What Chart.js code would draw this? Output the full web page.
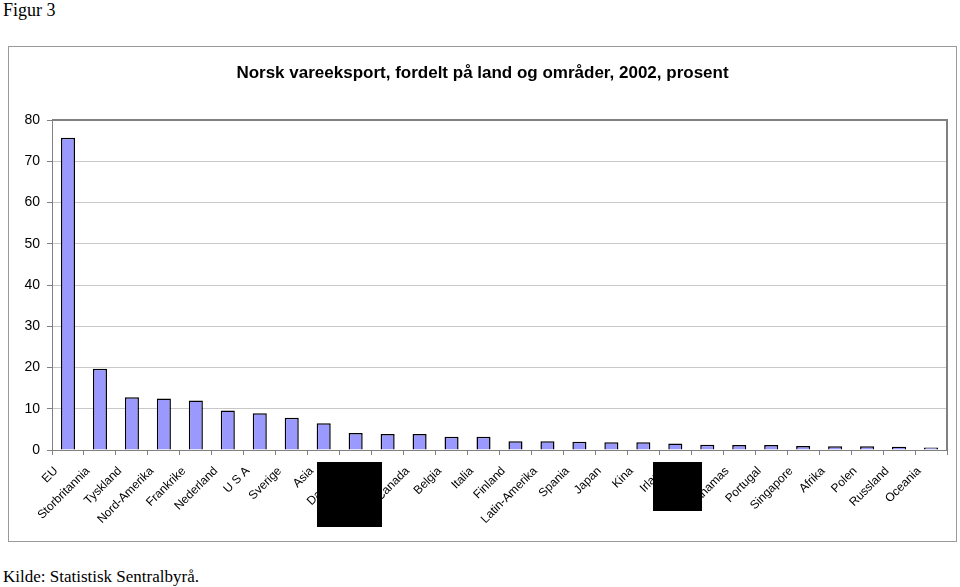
<!DOCTYPE html>
<html>
<head>
<meta charset="utf-8">
<script src="https://cdn.jsdelivr.net/npm/chart.js@4"></script>
<style>
  body { margin: 0; background: #fff; width: 960px; height: 587px; position: relative; overflow: hidden; }
  #figur { position: absolute; left: 3px; top: 0px; font: 18px "Liberation Serif", serif; }
  #kilde { position: absolute; left: 3px; top: 567px; font: 17px "Liberation Serif", serif; }
  #frame { position: absolute; left: 8px; top: 46px; width: 949px; height: 496px; border: 1px solid #9a9a9a; box-sizing: border-box; }
  #title { position: absolute; left: 0; right: 0; top: 16px; text-align: center; font: bold 17px "Liberation Sans", Arial, sans-serif; }
  .redact { position: absolute; background: #000; }
</style>
</head>
<body>
<div id="figur">Figur 3</div>
<div id="frame">
  <canvas id="exportChart"></canvas>
  <div id="title">Norsk vareeksport, fordelt på land og områder, 2002, prosent</div>
</div>
<div class="redact" style="left:317px; top:462px; width:65px; height:65px;"></div>
<div class="redact" style="left:653px; top:462px; width:49px; height:49px;"></div>
<div id="kilde">Kilde: Statistisk Sentralbyrå.</div>

<script>
// land og områder
const countries = ['EU', 'Storbritannia', 'Tyskland', 'Nord-Amerika', 'Frankrike', 'Nederland', 'U S A', 'Sverige',
    'Asia', 'Danmark', 'Sveits', 'Canada', 'Belgia', 'Italia', 'Finland', 'Latin-Amerika', 'Spania', 'Japan',
    'Kina', 'Irland', 'Sør-Korea', 'Bahamas', 'Portugal', 'Singapore', 'Afrika', 'Polen', 'Russland', 'Oceania'];

// prosent av vareeksporten
const shares = [75.7, 19.7, 12.8, 12.5, 12.0, 9.6, 8.9, 7.8,
    6.5, 4.1, 3.9, 3.9, 3.2, 3.2, 2.1, 2.1, 2.0, 1.9,
    1.9, 1.6, 1.3, 1.2, 1.2, 1.0, 0.9, 0.9, 0.8, 0.6];

const yTicks = [0, 10, 20, 30, 40, 50, 60, 70, 80];

// ramme rundt plottområdet (topp og høyre)
const plotBorder = {
    id: 'plotBorder',
    afterDraw(chart) {
        const a = chart.chartArea, c = chart.ctx;
        c.save();
        c.strokeStyle = '#808080';
        c.lineWidth = 2;
        c.beginPath();
        c.moveTo(a.left, a.top);
        c.lineTo(a.right, a.top);
        c.lineTo(a.right, a.bottom);
        c.stroke();
        c.restore();
    }
};

const ctx = document.getElementById('exportChart').getContext('2d');

new Chart(ctx, {
    type: 'bar',
    data: {
        labels: countries,
        datasets: [{
            label: 'Prosent',
            data: shares,
            backgroundColor: '#9999ff',
            borderColor: '#000000',
            borderWidth: 1.5,
            categoryPercentage: 1,
            barPercentage: 0.44
        }]
    },
    plugins: [plotBorder],
    options: {
        responsive: true,
        maintainAspectRatio: false,
        animation: false,
        layout: { padding: { left: 0, right: 9, top: 73, bottom: 0 } },
        plugins: {
            legend: { display: false },
            tooltip: { enabled: false }
        },
        scales: {
            x: {
                grid: { display: true, drawOnChartArea: false, tickLength: 5, color: '#808080' },
                border: { color: '#808080', width: 1 },
                ticks: {
                    autoSkip: false,
                    minRotation: 45,
                    maxRotation: 45,
                    color: '#000',
                    labelOffset: -12,
                    padding: 9,
                    font: { family: '"Liberation Sans", Arial, sans-serif', size: 12 }
                },
                afterFit: function (scale) { scale.height = 91; }
            },
            y: {
                min: 0,
                max: 80,
                afterBuildTicks: function (scale) { scale.ticks = yTicks.map(v => ({ value: v })); },
                grid: { color: '#c8c8c8', tickLength: 5, tickColor: '#808080' },
                border: { color: '#808080', width: 1 },
                ticks: {
                    color: '#000',
                    padding: 7,
                    font: { family: '"Liberation Sans", Arial, sans-serif', size: 14 }
                },
                afterFit: function (scale) { scale.width = 43; }
            }
        }
    }
});
</script>
</body>
</html>
